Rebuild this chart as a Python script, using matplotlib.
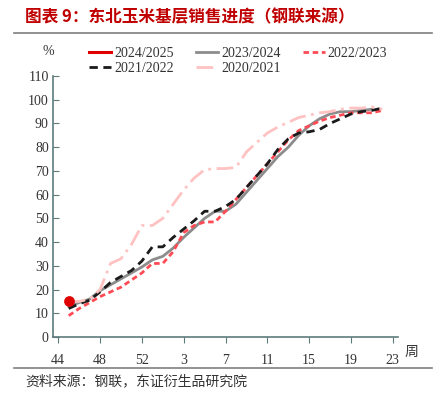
import matplotlib
matplotlib.use("Agg")
from matplotlib import pyplot as plt
import numpy as np

plt.rcParams['font.family'] = ['Liberation Serif', 'Noto Sans CJK SC', 'DejaVu Sans']

# week axis: 44..53 then 1..23
weeks = list(range(44, 54)) + list(range(1, 24))

# values start at week 45
s2024 = [15]
s2023 = [13, 14.5, 16, 19.5, 22, 24.5, 27, 29.5, 32.5, 34, 37.5, 42, 46, 50, 53, 53,
         56, 61, 66, 71, 76, 80, 85, 89, 92, 94, 95, 95, 95.5, 96]
s2022 = [9, 12, 14.5, 17, 19, 21, 24, 27, 31, 31, 36, 44, 47, 48.5, 48.5, 53,
         58, 63, 68, 73, 78, 83, 87, 89, 91, 92.5, 93.5, 94.5, 94.5, 94.5, 95.5]
s2021 = [12, 14, 15.5, 19, 23, 25.5, 28, 32, 38, 38, 42, 45.5, 49, 53, 53, 55,
         58, 63, 68, 73, 79, 83.5, 86, 86.5, 87.5, 90, 92, 94, 95, 95.5, 96.5]
s2020 = [15, 15, 16, 20, 31, 33, 39, 47, 47, 50, 56, 62, 67, 70.5, 71, 71,
         71.5, 78, 82, 86, 88.5, 90.5, 92.5, 93.5, 94.5, 95, 96, 96.5, 96.5, 97, 96]

def xs(vals):
    return np.arange(1, 1 + len(vals))

fig = plt.figure(figsize=(4.4, 3.93), dpi=100)
ax = fig.add_axes([0.1205, 0.1425, 0.784, 0.664])

l24, = ax.plot(xs(s2024), s2024, color='#E00000', lw=2.2, label='2024/2025')
ax.scatter(xs(s2024), s2024, s=45, color='#E00000', zorder=6)
l23, = ax.plot(xs(s2023), s2023, color='#8C8C8C', lw=2, label='2023/2024', zorder=2)
l22, = ax.plot(xs(s2022), s2022, color='#FF4B55', lw=2, dashes=(2, 1.3), label='2022/2023', zorder=3)
l21, = ax.plot(xs(s2021), s2021, color='#1A1A1A', lw=2, dashes=(3, 2), label='2021/2022', zorder=3)
l20, = ax.plot(xs(s2020), s2020, color='#FFC2C2', lw=2, dashes=(6, 2, 1, 2), label='2020/2021', zorder=3)

ax.set_xlim(-0.5, 32.5)
ax.set_ylim(0, 110)
ax.set_yticks(range(0, 111, 10))
ax.set_xticks(range(0, len(weeks), 4))
ax.set_xticklabels([str(w) for w in weeks[::4]])

axis_col = '#5E7B7B'
for side in ('top', 'right'):
    ax.spines[side].set_visible(False)
for side in ('left', 'bottom'):
    ax.spines[side].set_color(axis_col)
    ax.spines[side].set_linewidth(1.2)
ax.tick_params(axis='y', direction='in', length=4, color=axis_col, labelsize=10,
               labelcolor='#333333', pad=3)
ax.tick_params(axis='x', direction='out', length=4, color=axis_col, labelsize=10,
               labelcolor='#333333', pad=8)

leg = fig.legend([l24, l21, l23, l20, l22],
                 ['2024/2025', '2021/2022', '2023/2024', '2020/2021', '2022/2023'],
                 ncol=3, loc='upper left', bbox_to_anchor=(0.19, 0.895),
                 frameon=False, fontsize=10, handlelength=1.6, handletextpad=0.2,
                 columnspacing=1.6, labelspacing=0.15, borderaxespad=0)
for t in leg.get_texts():
    t.set_color('#333333')

fig.text(0.11, 0.868, '%', fontsize=10, color='#333333', ha='center', va='center')
fig.text(0.935, 0.105, '周', fontsize=10, color='#333333', ha='center', va='center',
         family=['Noto Sans CJK SC'])

fig.text(0.057, 0.955, '图表 9：东北玉米基层销售进度（钢联来源）', fontsize=12,
         color='#C00000', fontweight='bold', ha='left', va='center',
         family=['Noto Sans CJK SC', 'DejaVu Sans'])
fig.add_artist(plt.Line2D([0.032, 0.982], [0.916, 0.916], color='#7F7F7F', lw=1.2))
fig.add_artist(plt.Line2D([0.032, 0.982], [0.064, 0.064], color='#7F7F7F', lw=1.2))
fig.text(0.057, 0.03, '资料来源：钢联，东证衍生品研究院', fontsize=10,
         color='#333333', ha='left', va='center', family=['Noto Sans CJK SC', 'DejaVu Sans'])

fig.savefig('out.png', dpi=100)
